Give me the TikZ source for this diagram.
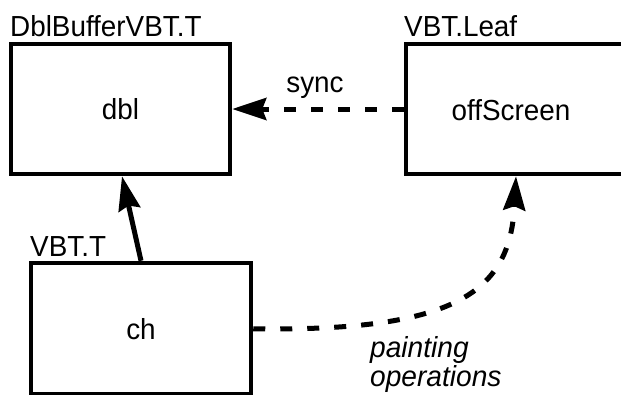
\documentclass[tikz,border=0pt]{standalone}
\usepackage{fontspec}
\setmainfont{Liberation Sans}[FakeStretch=0.96]
\newfontfamily\notefont{Liberation Sans}[FakeStretch=0.97]
\usetikzlibrary{arrows.meta}
\begin{document}
\begin{tikzpicture}[x=1pt,y=-1pt,
  lbl/.style={font=\fontsize{29}{29}\selectfont, inner sep=0pt},
  objbox/.style={draw, line width=4.5pt, font=\fontsize{29}{29}\selectfont, inner sep=0pt},
  tip/.style={-{Stealth[length=34pt,width=22pt,inset=4pt]}},
  link/.style={line width=5pt, tip},
  dashlink/.style={link, dash pattern=on 12pt off 15pt}]

\path[use as bounding box, clip] (0,0) rectangle (621,394);

% object boxes
\node[objbox, minimum width=219pt, minimum height=130pt] (dbl) at (120.5,109) {dbl};
\node[objbox, minimum width=224pt, minimum height=130pt] (offbox) at (518,109) {};
\node[lbl, anchor=base] (offtext) at (511,120) {offScreen};
\node[objbox, minimum width=220pt, minimum height=131.5pt] (ch) at (141,328.75) {ch};

% type names
\node[lbl, anchor=base west] (dbltype) at (10,36) {DblBufferVBT.T};
\node[lbl, anchor=base west] (offtype) at (404,36) {VBT.Leaf};
\node[lbl, anchor=base west] (chtype) at (30,256) {VBT.T};

% connectors
\draw[dashlink] (offbox.west) -- (dbl.east);
\node[lbl, anchor=base] (synclbl) at (315,92) {sync};

\draw[link] (ch.north) -- ([xshift=1.5pt]dbl.south);

\draw[dashlink] (ch.east) .. controls (460,332) and (510,290) .. ([xshift=-2pt]offbox.south);
\node[lbl, font=\fontsize{29}{29}\notefont\itshape, align=left, anchor=base west] (paintlbl) at (370,386) {painting\\operations};

\end{tikzpicture}
\end{document}
